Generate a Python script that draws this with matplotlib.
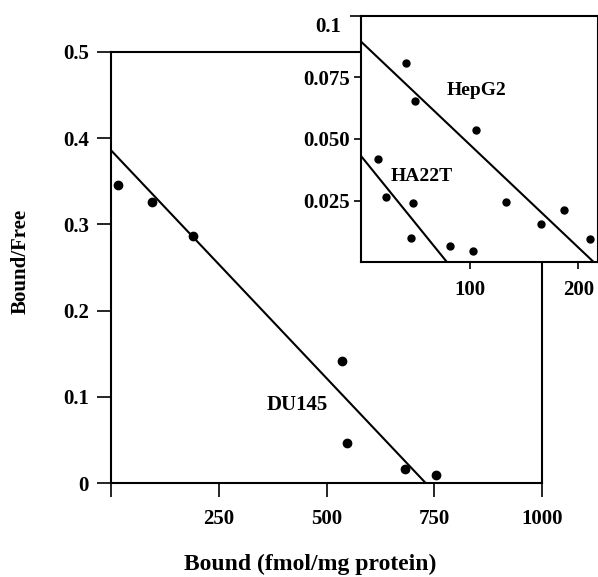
import matplotlib
matplotlib.use('Agg')
import matplotlib.pyplot as plt
from matplotlib.transforms import ScaledTranslation

plt.rcParams['font.family'] = ['Liberation Serif', 'DejaVu Serif']
plt.rcParams['font.weight'] = 'bold'

# DU145 (main panel)
du145_x = [16, 95, 190, 536, 548, 682, 754]
du145_y = [0.346, 0.326, 0.286, 0.141, 0.046, 0.016, 0.009]
du145_fit_x = [0, 730]
du145_fit_y = [0.386, 0.0]

# inset: HepG2 and HA22T
hepg2_x = [41, 50, 106, 133, 166, 187, 211, 82, 103]
hepg2_y = [0.0808, 0.0656, 0.0537, 0.0245, 0.0156, 0.0211, 0.0093, 0.0064, 0.0045]
hepg2_fit_x = [0, 214]
hepg2_fit_y = [0.0896, 0.0]

ha22t_x = [16, 23, 47.5, 46]
ha22t_y = [0.0419, 0.0265, 0.0239, 0.0099]
ha22t_fit_x = [0, 79]
ha22t_fit_y = [0.0431, 0.0]

main_xticks = [0, 250, 500, 750, 1000]
main_xlabels = ['', '250', '500', '750', '1000']
main_yticks = [0, 0.1, 0.2, 0.3, 0.4, 0.5]
main_ylabels = ['0', '0.1', '0.2', '0.3', '0.4', '0.5']
inset_xticks = [100, 200]
inset_yticks = [0.025, 0.050, 0.075, 0.1]
inset_ylabels = ['0.025', '0.050', '0.075', '0.1']

fig = plt.figure(figsize=(5.98, 5.77), dpi=100)

ax = fig.add_axes([0.1856, 0.1629, 0.7208, 0.7470])
ax.plot(du145_x, du145_y, 'o', color='black', markersize=6)
ax.plot(du145_fit_x, du145_fit_y, color='black', linewidth=1.5)
ax.text(432, 0.0905, 'DU145', fontsize=15, fontweight='bold', ha='center', va='center')
ax.set_xlim(0, 1000)
ax.set_ylim(0, 0.5)
ax.set_xticks(main_xticks)
ax.set_xticklabels(main_xlabels)
ax.set_yticks(main_yticks)
ax.set_yticklabels(main_ylabels)
ax.tick_params(axis='both', direction='out', length=10, width=1.2, labelsize=15, pad=6)
ax.tick_params(axis='x', pad=9)
for s in ax.spines.values():
    s.set_linewidth(1.5)
ax.set_xlabel('Bound (fmol/mg protein)', fontsize=17, fontweight='bold')
ax.xaxis.set_label_coords(0.462, -0.165)
ax.set_ylabel('Bound/Free', fontsize=15, fontweight='bold')
ax.yaxis.set_label_coords(-0.186, 0.515)

ins = fig.add_axes([0.6037, 0.5459, 0.3963, 0.4264])
ins.plot(hepg2_x, hepg2_y, 'o', color='black', markersize=5)
ins.plot(ha22t_x, ha22t_y, 'o', color='black', markersize=5)
ins.plot(hepg2_fit_x, hepg2_fit_y, color='black', linewidth=1.5)
ins.plot(ha22t_fit_x, ha22t_fit_y, color='black', linewidth=1.5)
ins.text(106, 0.0699, 'HepG2', fontsize=14, fontweight='bold', ha='center', va='center')
ins.text(55.5, 0.0346, 'HA22T', fontsize=14, fontweight='bold', ha='center', va='center')
ins.set_xlim(0, 218)
ins.set_ylim(0, 0.1)
ins.set_xticks(inset_xticks)
ins.set_yticks(inset_yticks)
ins.set_yticklabels(inset_ylabels)
ins.tick_params(axis='both', direction='out', length=5, width=1.2, labelsize=15, pad=3)
ins.tick_params(axis='x', pad=8)
for s in ins.spines.values():
    s.set_linewidth(1.5)

# the "0.1" tick is longer and its label sits lower-left in the original
top_tick = ins.yaxis.get_major_ticks()[-1]
top_tick.tick1line.set_markersize(8)
top_lab = ins.get_yticklabels()[-1]
top_lab.set_transform(top_lab.get_transform()
                      + ScaledTranslation(-6 / 72, -6 / 72, fig.dpi_scale_trans))

fig.savefig('out.png', dpi=100)
